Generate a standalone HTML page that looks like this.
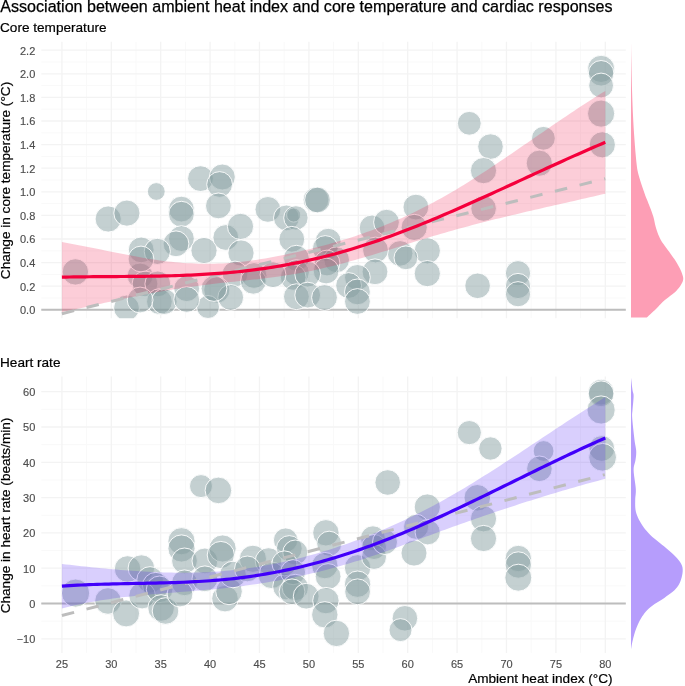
<!DOCTYPE html><html><head><meta charset="utf-8"><style>html,body{margin:0;padding:0;background:#fff;width:685px;height:686px;overflow:hidden}</style></head><body><svg width="685" height="686" viewBox="0 0 685 686" style="display:block;will-change:transform">
<rect width="685" height="686" fill="#fff"/>
<line x1="41.3" x2="625.8" y1="298.00" y2="298.00" stroke="#f9f9f9" stroke-width="1"/>
<line x1="41.3" x2="625.8" y1="274.40" y2="274.40" stroke="#f9f9f9" stroke-width="1"/>
<line x1="41.3" x2="625.8" y1="250.80" y2="250.80" stroke="#f9f9f9" stroke-width="1"/>
<line x1="41.3" x2="625.8" y1="227.20" y2="227.20" stroke="#f9f9f9" stroke-width="1"/>
<line x1="41.3" x2="625.8" y1="203.60" y2="203.60" stroke="#f9f9f9" stroke-width="1"/>
<line x1="41.3" x2="625.8" y1="180.00" y2="180.00" stroke="#f9f9f9" stroke-width="1"/>
<line x1="41.3" x2="625.8" y1="156.40" y2="156.40" stroke="#f9f9f9" stroke-width="1"/>
<line x1="41.3" x2="625.8" y1="132.80" y2="132.80" stroke="#f9f9f9" stroke-width="1"/>
<line x1="41.3" x2="625.8" y1="109.20" y2="109.20" stroke="#f9f9f9" stroke-width="1"/>
<line x1="41.3" x2="625.8" y1="85.60" y2="85.60" stroke="#f9f9f9" stroke-width="1"/>
<line x1="41.3" x2="625.8" y1="62.00" y2="62.00" stroke="#f9f9f9" stroke-width="1"/>
<line x1="86.60" x2="86.60" y1="41.8" y2="318.2" stroke="#f9f9f9" stroke-width="1"/>
<line x1="136.00" x2="136.00" y1="41.8" y2="318.2" stroke="#f9f9f9" stroke-width="1"/>
<line x1="185.40" x2="185.40" y1="41.8" y2="318.2" stroke="#f9f9f9" stroke-width="1"/>
<line x1="234.80" x2="234.80" y1="41.8" y2="318.2" stroke="#f9f9f9" stroke-width="1"/>
<line x1="284.20" x2="284.20" y1="41.8" y2="318.2" stroke="#f9f9f9" stroke-width="1"/>
<line x1="333.60" x2="333.60" y1="41.8" y2="318.2" stroke="#f9f9f9" stroke-width="1"/>
<line x1="383.00" x2="383.00" y1="41.8" y2="318.2" stroke="#f9f9f9" stroke-width="1"/>
<line x1="432.40" x2="432.40" y1="41.8" y2="318.2" stroke="#f9f9f9" stroke-width="1"/>
<line x1="481.80" x2="481.80" y1="41.8" y2="318.2" stroke="#f9f9f9" stroke-width="1"/>
<line x1="531.20" x2="531.20" y1="41.8" y2="318.2" stroke="#f9f9f9" stroke-width="1"/>
<line x1="580.60" x2="580.60" y1="41.8" y2="318.2" stroke="#f9f9f9" stroke-width="1"/>
<line x1="41.3" x2="625.8" y1="309.80" y2="309.80" stroke="#f3f3f3" stroke-width="1.3"/>
<line x1="41.3" x2="625.8" y1="286.20" y2="286.20" stroke="#f3f3f3" stroke-width="1.3"/>
<line x1="41.3" x2="625.8" y1="262.60" y2="262.60" stroke="#f3f3f3" stroke-width="1.3"/>
<line x1="41.3" x2="625.8" y1="239.00" y2="239.00" stroke="#f3f3f3" stroke-width="1.3"/>
<line x1="41.3" x2="625.8" y1="215.40" y2="215.40" stroke="#f3f3f3" stroke-width="1.3"/>
<line x1="41.3" x2="625.8" y1="191.80" y2="191.80" stroke="#f3f3f3" stroke-width="1.3"/>
<line x1="41.3" x2="625.8" y1="168.20" y2="168.20" stroke="#f3f3f3" stroke-width="1.3"/>
<line x1="41.3" x2="625.8" y1="144.60" y2="144.60" stroke="#f3f3f3" stroke-width="1.3"/>
<line x1="41.3" x2="625.8" y1="121.00" y2="121.00" stroke="#f3f3f3" stroke-width="1.3"/>
<line x1="41.3" x2="625.8" y1="97.40" y2="97.40" stroke="#f3f3f3" stroke-width="1.3"/>
<line x1="41.3" x2="625.8" y1="73.80" y2="73.80" stroke="#f3f3f3" stroke-width="1.3"/>
<line x1="41.3" x2="625.8" y1="50.20" y2="50.20" stroke="#f3f3f3" stroke-width="1.3"/>
<line x1="61.90" x2="61.90" y1="41.8" y2="318.2" stroke="#f3f3f3" stroke-width="1.3"/>
<line x1="111.30" x2="111.30" y1="41.8" y2="318.2" stroke="#f3f3f3" stroke-width="1.3"/>
<line x1="160.70" x2="160.70" y1="41.8" y2="318.2" stroke="#f3f3f3" stroke-width="1.3"/>
<line x1="210.10" x2="210.10" y1="41.8" y2="318.2" stroke="#f3f3f3" stroke-width="1.3"/>
<line x1="259.50" x2="259.50" y1="41.8" y2="318.2" stroke="#f3f3f3" stroke-width="1.3"/>
<line x1="308.90" x2="308.90" y1="41.8" y2="318.2" stroke="#f3f3f3" stroke-width="1.3"/>
<line x1="358.30" x2="358.30" y1="41.8" y2="318.2" stroke="#f3f3f3" stroke-width="1.3"/>
<line x1="407.70" x2="407.70" y1="41.8" y2="318.2" stroke="#f3f3f3" stroke-width="1.3"/>
<line x1="457.10" x2="457.10" y1="41.8" y2="318.2" stroke="#f3f3f3" stroke-width="1.3"/>
<line x1="506.50" x2="506.50" y1="41.8" y2="318.2" stroke="#f3f3f3" stroke-width="1.3"/>
<line x1="555.90" x2="555.90" y1="41.8" y2="318.2" stroke="#f3f3f3" stroke-width="1.3"/>
<line x1="605.30" x2="605.30" y1="41.8" y2="318.2" stroke="#f3f3f3" stroke-width="1.3"/>
<line x1="41.3" x2="625.8" y1="621.15" y2="621.15" stroke="#f9f9f9" stroke-width="1"/>
<line x1="41.3" x2="625.8" y1="585.85" y2="585.85" stroke="#f9f9f9" stroke-width="1"/>
<line x1="41.3" x2="625.8" y1="550.55" y2="550.55" stroke="#f9f9f9" stroke-width="1"/>
<line x1="41.3" x2="625.8" y1="515.25" y2="515.25" stroke="#f9f9f9" stroke-width="1"/>
<line x1="41.3" x2="625.8" y1="479.95" y2="479.95" stroke="#f9f9f9" stroke-width="1"/>
<line x1="41.3" x2="625.8" y1="444.65" y2="444.65" stroke="#f9f9f9" stroke-width="1"/>
<line x1="41.3" x2="625.8" y1="409.35" y2="409.35" stroke="#f9f9f9" stroke-width="1"/>
<line x1="86.60" x2="86.60" y1="376.6" y2="652.9" stroke="#f9f9f9" stroke-width="1"/>
<line x1="136.00" x2="136.00" y1="376.6" y2="652.9" stroke="#f9f9f9" stroke-width="1"/>
<line x1="185.40" x2="185.40" y1="376.6" y2="652.9" stroke="#f9f9f9" stroke-width="1"/>
<line x1="234.80" x2="234.80" y1="376.6" y2="652.9" stroke="#f9f9f9" stroke-width="1"/>
<line x1="284.20" x2="284.20" y1="376.6" y2="652.9" stroke="#f9f9f9" stroke-width="1"/>
<line x1="333.60" x2="333.60" y1="376.6" y2="652.9" stroke="#f9f9f9" stroke-width="1"/>
<line x1="383.00" x2="383.00" y1="376.6" y2="652.9" stroke="#f9f9f9" stroke-width="1"/>
<line x1="432.40" x2="432.40" y1="376.6" y2="652.9" stroke="#f9f9f9" stroke-width="1"/>
<line x1="481.80" x2="481.80" y1="376.6" y2="652.9" stroke="#f9f9f9" stroke-width="1"/>
<line x1="531.20" x2="531.20" y1="376.6" y2="652.9" stroke="#f9f9f9" stroke-width="1"/>
<line x1="580.60" x2="580.60" y1="376.6" y2="652.9" stroke="#f9f9f9" stroke-width="1"/>
<line x1="41.3" x2="625.8" y1="638.80" y2="638.80" stroke="#f3f3f3" stroke-width="1.3"/>
<line x1="41.3" x2="625.8" y1="603.50" y2="603.50" stroke="#f3f3f3" stroke-width="1.3"/>
<line x1="41.3" x2="625.8" y1="568.20" y2="568.20" stroke="#f3f3f3" stroke-width="1.3"/>
<line x1="41.3" x2="625.8" y1="532.90" y2="532.90" stroke="#f3f3f3" stroke-width="1.3"/>
<line x1="41.3" x2="625.8" y1="497.60" y2="497.60" stroke="#f3f3f3" stroke-width="1.3"/>
<line x1="41.3" x2="625.8" y1="462.30" y2="462.30" stroke="#f3f3f3" stroke-width="1.3"/>
<line x1="41.3" x2="625.8" y1="427.00" y2="427.00" stroke="#f3f3f3" stroke-width="1.3"/>
<line x1="41.3" x2="625.8" y1="391.70" y2="391.70" stroke="#f3f3f3" stroke-width="1.3"/>
<line x1="61.90" x2="61.90" y1="376.6" y2="652.9" stroke="#f3f3f3" stroke-width="1.3"/>
<line x1="111.30" x2="111.30" y1="376.6" y2="652.9" stroke="#f3f3f3" stroke-width="1.3"/>
<line x1="160.70" x2="160.70" y1="376.6" y2="652.9" stroke="#f3f3f3" stroke-width="1.3"/>
<line x1="210.10" x2="210.10" y1="376.6" y2="652.9" stroke="#f3f3f3" stroke-width="1.3"/>
<line x1="259.50" x2="259.50" y1="376.6" y2="652.9" stroke="#f3f3f3" stroke-width="1.3"/>
<line x1="308.90" x2="308.90" y1="376.6" y2="652.9" stroke="#f3f3f3" stroke-width="1.3"/>
<line x1="358.30" x2="358.30" y1="376.6" y2="652.9" stroke="#f3f3f3" stroke-width="1.3"/>
<line x1="407.70" x2="407.70" y1="376.6" y2="652.9" stroke="#f3f3f3" stroke-width="1.3"/>
<line x1="457.10" x2="457.10" y1="376.6" y2="652.9" stroke="#f3f3f3" stroke-width="1.3"/>
<line x1="506.50" x2="506.50" y1="376.6" y2="652.9" stroke="#f3f3f3" stroke-width="1.3"/>
<line x1="555.90" x2="555.90" y1="376.6" y2="652.9" stroke="#f3f3f3" stroke-width="1.3"/>
<line x1="605.30" x2="605.30" y1="376.6" y2="652.9" stroke="#f3f3f3" stroke-width="1.3"/>
<line x1="41.3" x2="625.8" y1="309.80" y2="309.80" stroke="#bdbdbd" stroke-width="2.1"/>
<line x1="41.3" x2="625.8" y1="603.50" y2="603.50" stroke="#bdbdbd" stroke-width="2.1"/>
<defs><clipPath id="ct"><rect x="41.3" y="41.8" width="584.5" height="276.4"/></clipPath><clipPath id="cb"><rect x="41.3" y="376.6" width="584.5" height="276.29999999999995"/></clipPath></defs>
<g clip-path="url(#ct)">
<circle cx="75.4" cy="271.9" r="13.2" fill="rgb(131,156,158)" fill-opacity="0.48" stroke="#fff" stroke-opacity="0.9" stroke-width="1.0"/>
<circle cx="108.2" cy="219.0" r="13.1" fill="rgb(131,156,158)" fill-opacity="0.48" stroke="#fff" stroke-opacity="0.9" stroke-width="1.0"/>
<circle cx="126.9" cy="213.1" r="13.1" fill="rgb(131,156,158)" fill-opacity="0.48" stroke="#fff" stroke-opacity="0.9" stroke-width="1.0"/>
<circle cx="156.3" cy="191.5" r="8.9" fill="rgb(131,156,158)" fill-opacity="0.48" stroke="#fff" stroke-opacity="0.9" stroke-width="1.0"/>
<circle cx="181.4" cy="209.1" r="12.9" fill="rgb(131,156,158)" fill-opacity="0.48" stroke="#fff" stroke-opacity="0.9" stroke-width="1.0"/>
<circle cx="181.4" cy="214.2" r="12.9" fill="rgb(131,156,158)" fill-opacity="0.48" stroke="#fff" stroke-opacity="0.9" stroke-width="1.0"/>
<circle cx="200.5" cy="178.6" r="12.9" fill="rgb(131,156,158)" fill-opacity="0.48" stroke="#fff" stroke-opacity="0.9" stroke-width="1.0"/>
<circle cx="222.3" cy="177.0" r="13.0" fill="rgb(131,156,158)" fill-opacity="0.48" stroke="#fff" stroke-opacity="0.9" stroke-width="1.0"/>
<circle cx="219.6" cy="184.5" r="12.9" fill="rgb(131,156,158)" fill-opacity="0.48" stroke="#fff" stroke-opacity="0.9" stroke-width="1.0"/>
<circle cx="218.4" cy="205.9" r="12.9" fill="rgb(131,156,158)" fill-opacity="0.48" stroke="#fff" stroke-opacity="0.9" stroke-width="1.0"/>
<circle cx="181.4" cy="238.6" r="12.9" fill="rgb(131,156,158)" fill-opacity="0.48" stroke="#fff" stroke-opacity="0.9" stroke-width="1.0"/>
<circle cx="176.0" cy="243.8" r="12.9" fill="rgb(131,156,158)" fill-opacity="0.48" stroke="#fff" stroke-opacity="0.9" stroke-width="1.0"/>
<circle cx="141.2" cy="249.9" r="12.9" fill="rgb(131,156,158)" fill-opacity="0.48" stroke="#fff" stroke-opacity="0.9" stroke-width="1.0"/>
<circle cx="157.3" cy="251.4" r="13.1" fill="rgb(131,156,158)" fill-opacity="0.48" stroke="#fff" stroke-opacity="0.9" stroke-width="1.0"/>
<circle cx="204.0" cy="250.5" r="13.1" fill="rgb(131,156,158)" fill-opacity="0.48" stroke="#fff" stroke-opacity="0.9" stroke-width="1.0"/>
<circle cx="225.8" cy="237.5" r="12.9" fill="rgb(131,156,158)" fill-opacity="0.48" stroke="#fff" stroke-opacity="0.9" stroke-width="1.0"/>
<circle cx="240.5" cy="226.4" r="13.1" fill="rgb(131,156,158)" fill-opacity="0.48" stroke="#fff" stroke-opacity="0.9" stroke-width="1.0"/>
<circle cx="241.0" cy="253.0" r="13.1" fill="rgb(131,156,158)" fill-opacity="0.48" stroke="#fff" stroke-opacity="0.9" stroke-width="1.0"/>
<circle cx="267.9" cy="209.4" r="12.9" fill="rgb(131,156,158)" fill-opacity="0.48" stroke="#fff" stroke-opacity="0.9" stroke-width="1.0"/>
<circle cx="286.4" cy="217.9" r="12.9" fill="rgb(131,156,158)" fill-opacity="0.48" stroke="#fff" stroke-opacity="0.9" stroke-width="1.0"/>
<circle cx="293.7" cy="215.0" r="7.1" fill="rgb(131,156,158)" fill-opacity="0.48" stroke="#fff" stroke-opacity="0.9" stroke-width="1.0"/>
<circle cx="295.9" cy="217.9" r="12.2" fill="rgb(131,156,158)" fill-opacity="0.48" stroke="#fff" stroke-opacity="0.9" stroke-width="1.0"/>
<circle cx="316.0" cy="199.8" r="12.9" fill="rgb(131,156,158)" fill-opacity="0.48" stroke="#fff" stroke-opacity="0.9" stroke-width="1.0"/>
<circle cx="317.5" cy="200.0" r="12.9" fill="rgb(131,156,158)" fill-opacity="0.48" stroke="#fff" stroke-opacity="0.9" stroke-width="1.0"/>
<circle cx="291.8" cy="239.3" r="12.9" fill="rgb(131,156,158)" fill-opacity="0.48" stroke="#fff" stroke-opacity="0.9" stroke-width="1.0"/>
<circle cx="328.2" cy="241.2" r="12.9" fill="rgb(131,156,158)" fill-opacity="0.48" stroke="#fff" stroke-opacity="0.9" stroke-width="1.0"/>
<circle cx="325.3" cy="248.5" r="12.9" fill="rgb(131,156,158)" fill-opacity="0.48" stroke="#fff" stroke-opacity="0.9" stroke-width="1.0"/>
<circle cx="372.1" cy="227.9" r="12.9" fill="rgb(131,156,158)" fill-opacity="0.48" stroke="#fff" stroke-opacity="0.9" stroke-width="1.0"/>
<circle cx="386.5" cy="222.2" r="12.9" fill="rgb(131,156,158)" fill-opacity="0.48" stroke="#fff" stroke-opacity="0.9" stroke-width="1.0"/>
<circle cx="415.9" cy="207.1" r="12.9" fill="rgb(131,156,158)" fill-opacity="0.48" stroke="#fff" stroke-opacity="0.9" stroke-width="1.0"/>
<circle cx="414.2" cy="227.4" r="13.1" fill="rgb(131,156,158)" fill-opacity="0.48" stroke="#fff" stroke-opacity="0.9" stroke-width="1.0"/>
<circle cx="469.3" cy="123.3" r="11.9" fill="rgb(131,156,158)" fill-opacity="0.48" stroke="#fff" stroke-opacity="0.9" stroke-width="1.0"/>
<circle cx="490.5" cy="146.6" r="12.8" fill="rgb(131,156,158)" fill-opacity="0.48" stroke="#fff" stroke-opacity="0.9" stroke-width="1.0"/>
<circle cx="483.5" cy="170.6" r="13.1" fill="rgb(131,156,158)" fill-opacity="0.48" stroke="#fff" stroke-opacity="0.9" stroke-width="1.0"/>
<circle cx="483.6" cy="208.5" r="12.8" fill="rgb(131,156,158)" fill-opacity="0.48" stroke="#fff" stroke-opacity="0.9" stroke-width="1.0"/>
<circle cx="543.4" cy="138.3" r="11.9" fill="rgb(131,156,158)" fill-opacity="0.48" stroke="#fff" stroke-opacity="0.9" stroke-width="1.0"/>
<circle cx="539.3" cy="163.2" r="13.1" fill="rgb(131,156,158)" fill-opacity="0.48" stroke="#fff" stroke-opacity="0.9" stroke-width="1.0"/>
<circle cx="601.1" cy="68.9" r="13.6" fill="rgb(131,156,158)" fill-opacity="0.48" stroke="#fff" stroke-opacity="0.9" stroke-width="1.0"/>
<circle cx="601.1" cy="73.3" r="12.8" fill="rgb(131,156,158)" fill-opacity="0.48" stroke="#fff" stroke-opacity="0.9" stroke-width="1.0"/>
<circle cx="601.1" cy="85.5" r="12.4" fill="rgb(131,156,158)" fill-opacity="0.48" stroke="#fff" stroke-opacity="0.9" stroke-width="1.0"/>
<circle cx="601.1" cy="113.6" r="13.6" fill="rgb(131,156,158)" fill-opacity="0.48" stroke="#fff" stroke-opacity="0.9" stroke-width="1.0"/>
<circle cx="602.3" cy="144.8" r="13.1" fill="rgb(131,156,158)" fill-opacity="0.48" stroke="#fff" stroke-opacity="0.9" stroke-width="1.0"/>
<circle cx="518.0" cy="273.2" r="12.6" fill="rgb(131,156,158)" fill-opacity="0.48" stroke="#fff" stroke-opacity="0.9" stroke-width="1.0"/>
<circle cx="518.0" cy="286.0" r="12.6" fill="rgb(131,156,158)" fill-opacity="0.48" stroke="#fff" stroke-opacity="0.9" stroke-width="1.0"/>
<circle cx="518.0" cy="294.2" r="12.6" fill="rgb(131,156,158)" fill-opacity="0.48" stroke="#fff" stroke-opacity="0.9" stroke-width="1.0"/>
<circle cx="427.3" cy="250.8" r="13.1" fill="rgb(131,156,158)" fill-opacity="0.48" stroke="#fff" stroke-opacity="0.9" stroke-width="1.0"/>
<circle cx="427.3" cy="273.6" r="13.1" fill="rgb(131,156,158)" fill-opacity="0.48" stroke="#fff" stroke-opacity="0.9" stroke-width="1.0"/>
<circle cx="400.1" cy="253.4" r="12.8" fill="rgb(131,156,158)" fill-opacity="0.48" stroke="#fff" stroke-opacity="0.9" stroke-width="1.0"/>
<circle cx="405.9" cy="257.8" r="11.9" fill="rgb(131,156,158)" fill-opacity="0.48" stroke="#fff" stroke-opacity="0.9" stroke-width="1.0"/>
<circle cx="375.5" cy="250.0" r="12.9" fill="rgb(131,156,158)" fill-opacity="0.48" stroke="#fff" stroke-opacity="0.9" stroke-width="1.0"/>
<circle cx="375.0" cy="271.8" r="12.9" fill="rgb(131,156,158)" fill-opacity="0.48" stroke="#fff" stroke-opacity="0.9" stroke-width="1.0"/>
<circle cx="477.6" cy="285.8" r="12.8" fill="rgb(131,156,158)" fill-opacity="0.48" stroke="#fff" stroke-opacity="0.9" stroke-width="1.0"/>
<circle cx="336.6" cy="259.8" r="12.9" fill="rgb(131,156,158)" fill-opacity="0.48" stroke="#fff" stroke-opacity="0.9" stroke-width="1.0"/>
<circle cx="327.0" cy="263.0" r="12.9" fill="rgb(131,156,158)" fill-opacity="0.48" stroke="#fff" stroke-opacity="0.9" stroke-width="1.0"/>
<circle cx="326.1" cy="271.0" r="12.9" fill="rgb(131,156,158)" fill-opacity="0.48" stroke="#fff" stroke-opacity="0.9" stroke-width="1.0"/>
<circle cx="296.4" cy="258.2" r="12.9" fill="rgb(131,156,158)" fill-opacity="0.48" stroke="#fff" stroke-opacity="0.9" stroke-width="1.0"/>
<circle cx="296.4" cy="272.6" r="12.9" fill="rgb(131,156,158)" fill-opacity="0.48" stroke="#fff" stroke-opacity="0.9" stroke-width="1.0"/>
<circle cx="293.2" cy="277.4" r="12.9" fill="rgb(131,156,158)" fill-opacity="0.48" stroke="#fff" stroke-opacity="0.9" stroke-width="1.0"/>
<circle cx="307.7" cy="274.2" r="12.9" fill="rgb(131,156,158)" fill-opacity="0.48" stroke="#fff" stroke-opacity="0.9" stroke-width="1.0"/>
<circle cx="296.4" cy="296.7" r="12.9" fill="rgb(131,156,158)" fill-opacity="0.48" stroke="#fff" stroke-opacity="0.9" stroke-width="1.0"/>
<circle cx="307.7" cy="295.1" r="12.9" fill="rgb(131,156,158)" fill-opacity="0.48" stroke="#fff" stroke-opacity="0.9" stroke-width="1.0"/>
<circle cx="324.5" cy="297.5" r="12.9" fill="rgb(131,156,158)" fill-opacity="0.48" stroke="#fff" stroke-opacity="0.9" stroke-width="1.0"/>
<circle cx="357.4" cy="277.4" r="12.9" fill="rgb(131,156,158)" fill-opacity="0.48" stroke="#fff" stroke-opacity="0.9" stroke-width="1.0"/>
<circle cx="348.6" cy="285.5" r="12.9" fill="rgb(131,156,158)" fill-opacity="0.48" stroke="#fff" stroke-opacity="0.9" stroke-width="1.0"/>
<circle cx="357.4" cy="291.9" r="12.9" fill="rgb(131,156,158)" fill-opacity="0.48" stroke="#fff" stroke-opacity="0.9" stroke-width="1.0"/>
<circle cx="357.4" cy="301.5" r="12.9" fill="rgb(131,156,158)" fill-opacity="0.48" stroke="#fff" stroke-opacity="0.9" stroke-width="1.0"/>
<circle cx="235.0" cy="274.0" r="12.9" fill="rgb(131,156,158)" fill-opacity="0.48" stroke="#fff" stroke-opacity="0.9" stroke-width="1.0"/>
<circle cx="254.0" cy="275.5" r="12.9" fill="rgb(131,156,158)" fill-opacity="0.48" stroke="#fff" stroke-opacity="0.9" stroke-width="1.0"/>
<circle cx="253.3" cy="281.3" r="12.9" fill="rgb(131,156,158)" fill-opacity="0.48" stroke="#fff" stroke-opacity="0.9" stroke-width="1.0"/>
<circle cx="273.0" cy="274.7" r="12.9" fill="rgb(131,156,158)" fill-opacity="0.48" stroke="#fff" stroke-opacity="0.9" stroke-width="1.0"/>
<circle cx="216.8" cy="290.0" r="13.1" fill="rgb(131,156,158)" fill-opacity="0.48" stroke="#fff" stroke-opacity="0.9" stroke-width="1.0"/>
<circle cx="230.7" cy="297.4" r="12.9" fill="rgb(131,156,158)" fill-opacity="0.48" stroke="#fff" stroke-opacity="0.9" stroke-width="1.0"/>
<circle cx="208.0" cy="307.0" r="11.5" fill="rgb(131,156,158)" fill-opacity="0.48" stroke="#fff" stroke-opacity="0.9" stroke-width="1.0"/>
<circle cx="126.5" cy="308.0" r="12.9" fill="rgb(131,156,158)" fill-opacity="0.48" stroke="#fff" stroke-opacity="0.9" stroke-width="1.0"/>
<circle cx="140.1" cy="275.9" r="12.9" fill="rgb(131,156,158)" fill-opacity="0.48" stroke="#fff" stroke-opacity="0.9" stroke-width="1.0"/>
<circle cx="145.0" cy="283.9" r="12.9" fill="rgb(131,156,158)" fill-opacity="0.48" stroke="#fff" stroke-opacity="0.9" stroke-width="1.0"/>
<circle cx="141.0" cy="259.0" r="12.9" fill="rgb(131,156,158)" fill-opacity="0.48" stroke="#fff" stroke-opacity="0.9" stroke-width="1.0"/>
<circle cx="157.8" cy="283.9" r="12.9" fill="rgb(131,156,158)" fill-opacity="0.48" stroke="#fff" stroke-opacity="0.9" stroke-width="1.0"/>
<circle cx="159.4" cy="301.6" r="12.9" fill="rgb(131,156,158)" fill-opacity="0.48" stroke="#fff" stroke-opacity="0.9" stroke-width="1.0"/>
<circle cx="164.2" cy="301.6" r="12.9" fill="rgb(131,156,158)" fill-opacity="0.48" stroke="#fff" stroke-opacity="0.9" stroke-width="1.0"/>
<circle cx="140.1" cy="300.0" r="12.9" fill="rgb(131,156,158)" fill-opacity="0.48" stroke="#fff" stroke-opacity="0.9" stroke-width="1.0"/>
<circle cx="186.7" cy="288.7" r="12.9" fill="rgb(131,156,158)" fill-opacity="0.48" stroke="#fff" stroke-opacity="0.9" stroke-width="1.0"/>
<circle cx="186.7" cy="299.5" r="12.9" fill="rgb(131,156,158)" fill-opacity="0.48" stroke="#fff" stroke-opacity="0.9" stroke-width="1.0"/>
<circle cx="214.0" cy="288.5" r="12.9" fill="rgb(131,156,158)" fill-opacity="0.48" stroke="#fff" stroke-opacity="0.9" stroke-width="1.0"/>
</g>
<g clip-path="url(#cb)">
<circle cx="75.6" cy="593.1" r="14.1" fill="rgb(131,156,158)" fill-opacity="0.48" stroke="#fff" stroke-opacity="0.9" stroke-width="1.0"/>
<circle cx="108.0" cy="601.0" r="13.3" fill="rgb(131,156,158)" fill-opacity="0.48" stroke="#fff" stroke-opacity="0.9" stroke-width="1.0"/>
<circle cx="127.6" cy="569.0" r="13.3" fill="rgb(131,156,158)" fill-opacity="0.48" stroke="#fff" stroke-opacity="0.9" stroke-width="1.0"/>
<circle cx="126.1" cy="613.4" r="13.5" fill="rgb(131,156,158)" fill-opacity="0.48" stroke="#fff" stroke-opacity="0.9" stroke-width="1.0"/>
<circle cx="141.4" cy="568.1" r="13.3" fill="rgb(131,156,158)" fill-opacity="0.48" stroke="#fff" stroke-opacity="0.9" stroke-width="1.0"/>
<circle cx="150.1" cy="579.9" r="13.3" fill="rgb(131,156,158)" fill-opacity="0.48" stroke="#fff" stroke-opacity="0.9" stroke-width="1.0"/>
<circle cx="155.8" cy="585.7" r="13.3" fill="rgb(131,156,158)" fill-opacity="0.48" stroke="#fff" stroke-opacity="0.9" stroke-width="1.0"/>
<circle cx="142.1" cy="595.6" r="13.3" fill="rgb(131,156,158)" fill-opacity="0.48" stroke="#fff" stroke-opacity="0.9" stroke-width="1.0"/>
<circle cx="159.6" cy="589.3" r="13.3" fill="rgb(131,156,158)" fill-opacity="0.48" stroke="#fff" stroke-opacity="0.9" stroke-width="1.0"/>
<circle cx="161.1" cy="608.0" r="13.3" fill="rgb(131,156,158)" fill-opacity="0.48" stroke="#fff" stroke-opacity="0.9" stroke-width="1.0"/>
<circle cx="165.5" cy="611.0" r="13.3" fill="rgb(131,156,158)" fill-opacity="0.48" stroke="#fff" stroke-opacity="0.9" stroke-width="1.0"/>
<circle cx="181.5" cy="541.2" r="13.6" fill="rgb(131,156,158)" fill-opacity="0.48" stroke="#fff" stroke-opacity="0.9" stroke-width="1.0"/>
<circle cx="181.5" cy="548.5" r="13.6" fill="rgb(131,156,158)" fill-opacity="0.48" stroke="#fff" stroke-opacity="0.9" stroke-width="1.0"/>
<circle cx="184.5" cy="560.9" r="12.9" fill="rgb(131,156,158)" fill-opacity="0.48" stroke="#fff" stroke-opacity="0.9" stroke-width="1.0"/>
<circle cx="184.5" cy="582.8" r="12.9" fill="rgb(131,156,158)" fill-opacity="0.48" stroke="#fff" stroke-opacity="0.9" stroke-width="1.0"/>
<circle cx="180.0" cy="594.0" r="12.9" fill="rgb(131,156,158)" fill-opacity="0.48" stroke="#fff" stroke-opacity="0.9" stroke-width="1.0"/>
<circle cx="204.9" cy="560.9" r="12.9" fill="rgb(131,156,158)" fill-opacity="0.48" stroke="#fff" stroke-opacity="0.9" stroke-width="1.0"/>
<circle cx="204.9" cy="578.8" r="12.9" fill="rgb(131,156,158)" fill-opacity="0.48" stroke="#fff" stroke-opacity="0.9" stroke-width="1.0"/>
<circle cx="201.0" cy="486.1" r="11.5" fill="rgb(131,156,158)" fill-opacity="0.48" stroke="#fff" stroke-opacity="0.9" stroke-width="1.0"/>
<circle cx="218.4" cy="490.4" r="13.3" fill="rgb(131,156,158)" fill-opacity="0.48" stroke="#fff" stroke-opacity="0.9" stroke-width="1.0"/>
<circle cx="222.6" cy="548.5" r="13.6" fill="rgb(131,156,158)" fill-opacity="0.48" stroke="#fff" stroke-opacity="0.9" stroke-width="1.0"/>
<circle cx="220.8" cy="555.0" r="13.6" fill="rgb(131,156,158)" fill-opacity="0.48" stroke="#fff" stroke-opacity="0.9" stroke-width="1.0"/>
<circle cx="225.0" cy="598.6" r="13.3" fill="rgb(131,156,158)" fill-opacity="0.48" stroke="#fff" stroke-opacity="0.9" stroke-width="1.0"/>
<circle cx="229.0" cy="591.4" r="13.3" fill="rgb(131,156,158)" fill-opacity="0.48" stroke="#fff" stroke-opacity="0.9" stroke-width="1.0"/>
<circle cx="233.0" cy="574.5" r="13.3" fill="rgb(131,156,158)" fill-opacity="0.48" stroke="#fff" stroke-opacity="0.9" stroke-width="1.0"/>
<circle cx="252.9" cy="558.8" r="13.6" fill="rgb(131,156,158)" fill-opacity="0.48" stroke="#fff" stroke-opacity="0.9" stroke-width="1.0"/>
<circle cx="268.5" cy="561.0" r="13.3" fill="rgb(131,156,158)" fill-opacity="0.48" stroke="#fff" stroke-opacity="0.9" stroke-width="1.0"/>
<circle cx="271.5" cy="575.3" r="13.3" fill="rgb(131,156,158)" fill-opacity="0.48" stroke="#fff" stroke-opacity="0.9" stroke-width="1.0"/>
<circle cx="247.4" cy="568.9" r="12.9" fill="rgb(131,156,158)" fill-opacity="0.48" stroke="#fff" stroke-opacity="0.9" stroke-width="1.0"/>
<circle cx="286.0" cy="586.6" r="13.3" fill="rgb(131,156,158)" fill-opacity="0.48" stroke="#fff" stroke-opacity="0.9" stroke-width="1.0"/>
<circle cx="285.6" cy="540.1" r="12.2" fill="rgb(131,156,158)" fill-opacity="0.48" stroke="#fff" stroke-opacity="0.9" stroke-width="1.0"/>
<circle cx="289.3" cy="548.5" r="12.9" fill="rgb(131,156,158)" fill-opacity="0.48" stroke="#fff" stroke-opacity="0.9" stroke-width="1.0"/>
<circle cx="295.3" cy="552.5" r="12.5" fill="rgb(131,156,158)" fill-opacity="0.48" stroke="#fff" stroke-opacity="0.9" stroke-width="1.0"/>
<circle cx="284.4" cy="563.4" r="12.5" fill="rgb(131,156,158)" fill-opacity="0.48" stroke="#fff" stroke-opacity="0.9" stroke-width="1.0"/>
<circle cx="293.1" cy="572.2" r="12.5" fill="rgb(131,156,158)" fill-opacity="0.48" stroke="#fff" stroke-opacity="0.9" stroke-width="1.0"/>
<circle cx="295.3" cy="587.5" r="13.2" fill="rgb(131,156,158)" fill-opacity="0.48" stroke="#fff" stroke-opacity="0.9" stroke-width="1.0"/>
<circle cx="292.0" cy="591.8" r="12.9" fill="rgb(131,156,158)" fill-opacity="0.48" stroke="#fff" stroke-opacity="0.9" stroke-width="1.0"/>
<circle cx="306.2" cy="596.2" r="12.9" fill="rgb(131,156,158)" fill-opacity="0.48" stroke="#fff" stroke-opacity="0.9" stroke-width="1.0"/>
<circle cx="325.9" cy="532.8" r="13.2" fill="rgb(131,156,158)" fill-opacity="0.48" stroke="#fff" stroke-opacity="0.9" stroke-width="1.0"/>
<circle cx="329.2" cy="543.7" r="12.5" fill="rgb(131,156,158)" fill-opacity="0.48" stroke="#fff" stroke-opacity="0.9" stroke-width="1.0"/>
<circle cx="324.8" cy="565.6" r="13.2" fill="rgb(131,156,158)" fill-opacity="0.48" stroke="#fff" stroke-opacity="0.9" stroke-width="1.0"/>
<circle cx="328.1" cy="576.5" r="12.9" fill="rgb(131,156,158)" fill-opacity="0.48" stroke="#fff" stroke-opacity="0.9" stroke-width="1.0"/>
<circle cx="325.9" cy="600.6" r="13.2" fill="rgb(131,156,158)" fill-opacity="0.48" stroke="#fff" stroke-opacity="0.9" stroke-width="1.0"/>
<circle cx="324.8" cy="614.8" r="13.2" fill="rgb(131,156,158)" fill-opacity="0.48" stroke="#fff" stroke-opacity="0.9" stroke-width="1.0"/>
<circle cx="336.4" cy="633.4" r="13.2" fill="rgb(131,156,158)" fill-opacity="0.48" stroke="#fff" stroke-opacity="0.9" stroke-width="1.0"/>
<circle cx="357.6" cy="567.8" r="13.2" fill="rgb(131,156,158)" fill-opacity="0.48" stroke="#fff" stroke-opacity="0.9" stroke-width="1.0"/>
<circle cx="357.6" cy="584.2" r="13.2" fill="rgb(131,156,158)" fill-opacity="0.48" stroke="#fff" stroke-opacity="0.9" stroke-width="1.0"/>
<circle cx="357.6" cy="591.8" r="12.9" fill="rgb(131,156,158)" fill-opacity="0.48" stroke="#fff" stroke-opacity="0.9" stroke-width="1.0"/>
<circle cx="372.9" cy="538.3" r="12.5" fill="rgb(131,156,158)" fill-opacity="0.48" stroke="#fff" stroke-opacity="0.9" stroke-width="1.0"/>
<circle cx="374.0" cy="547.0" r="12.5" fill="rgb(131,156,158)" fill-opacity="0.48" stroke="#fff" stroke-opacity="0.9" stroke-width="1.0"/>
<circle cx="374.0" cy="556.9" r="12.5" fill="rgb(131,156,158)" fill-opacity="0.48" stroke="#fff" stroke-opacity="0.9" stroke-width="1.0"/>
<circle cx="385.0" cy="542.0" r="12.5" fill="rgb(131,156,158)" fill-opacity="0.48" stroke="#fff" stroke-opacity="0.9" stroke-width="1.0"/>
<circle cx="387.7" cy="482.5" r="12.8" fill="rgb(131,156,158)" fill-opacity="0.48" stroke="#fff" stroke-opacity="0.9" stroke-width="1.0"/>
<circle cx="427.3" cy="507.0" r="13.1" fill="rgb(131,156,158)" fill-opacity="0.48" stroke="#fff" stroke-opacity="0.9" stroke-width="1.0"/>
<circle cx="416.1" cy="526.8" r="12.6" fill="rgb(131,156,158)" fill-opacity="0.48" stroke="#fff" stroke-opacity="0.9" stroke-width="1.0"/>
<circle cx="427.7" cy="532.3" r="12.6" fill="rgb(131,156,158)" fill-opacity="0.48" stroke="#fff" stroke-opacity="0.9" stroke-width="1.0"/>
<circle cx="414.0" cy="553.1" r="13.0" fill="rgb(131,156,158)" fill-opacity="0.48" stroke="#fff" stroke-opacity="0.9" stroke-width="1.0"/>
<circle cx="404.9" cy="618.3" r="12.8" fill="rgb(131,156,158)" fill-opacity="0.48" stroke="#fff" stroke-opacity="0.9" stroke-width="1.0"/>
<circle cx="400.5" cy="630.1" r="11.5" fill="rgb(131,156,158)" fill-opacity="0.48" stroke="#fff" stroke-opacity="0.9" stroke-width="1.0"/>
<circle cx="469.3" cy="432.6" r="12.1" fill="rgb(131,156,158)" fill-opacity="0.48" stroke="#fff" stroke-opacity="0.9" stroke-width="1.0"/>
<circle cx="490.4" cy="448.5" r="11.7" fill="rgb(131,156,158)" fill-opacity="0.48" stroke="#fff" stroke-opacity="0.9" stroke-width="1.0"/>
<circle cx="477.3" cy="497.8" r="13.3" fill="rgb(131,156,158)" fill-opacity="0.48" stroke="#fff" stroke-opacity="0.9" stroke-width="1.0"/>
<circle cx="483.5" cy="518.8" r="13.1" fill="rgb(131,156,158)" fill-opacity="0.48" stroke="#fff" stroke-opacity="0.9" stroke-width="1.0"/>
<circle cx="483.5" cy="538.5" r="13.1" fill="rgb(131,156,158)" fill-opacity="0.48" stroke="#fff" stroke-opacity="0.9" stroke-width="1.0"/>
<circle cx="518.3" cy="558.5" r="13.2" fill="rgb(131,156,158)" fill-opacity="0.48" stroke="#fff" stroke-opacity="0.9" stroke-width="1.0"/>
<circle cx="518.3" cy="565.0" r="13.2" fill="rgb(131,156,158)" fill-opacity="0.48" stroke="#fff" stroke-opacity="0.9" stroke-width="1.0"/>
<circle cx="518.3" cy="577.7" r="13.5" fill="rgb(131,156,158)" fill-opacity="0.48" stroke="#fff" stroke-opacity="0.9" stroke-width="1.0"/>
<circle cx="543.6" cy="451.0" r="10.4" fill="rgb(131,156,158)" fill-opacity="0.48" stroke="#fff" stroke-opacity="0.9" stroke-width="1.0"/>
<circle cx="539.4" cy="468.8" r="12.8" fill="rgb(131,156,158)" fill-opacity="0.48" stroke="#fff" stroke-opacity="0.9" stroke-width="1.0"/>
<circle cx="601.1" cy="392.2" r="12.9" fill="rgb(131,156,158)" fill-opacity="0.48" stroke="#fff" stroke-opacity="0.9" stroke-width="1.0"/>
<circle cx="601.1" cy="393.8" r="12.9" fill="rgb(131,156,158)" fill-opacity="0.48" stroke="#fff" stroke-opacity="0.9" stroke-width="1.0"/>
<circle cx="601.1" cy="410.0" r="14.1" fill="rgb(131,156,158)" fill-opacity="0.48" stroke="#fff" stroke-opacity="0.9" stroke-width="1.0"/>
<circle cx="601.8" cy="448.5" r="12.9" fill="rgb(131,156,158)" fill-opacity="0.48" stroke="#fff" stroke-opacity="0.9" stroke-width="1.0"/>
<circle cx="602.6" cy="457.3" r="13.9" fill="rgb(131,156,158)" fill-opacity="0.48" stroke="#fff" stroke-opacity="0.9" stroke-width="1.0"/>
</g>
<path d="M61.90,242.12 L65.81,242.79 L69.72,243.48 L73.63,244.19 L77.54,244.92 L81.45,245.67 L85.36,246.44 L89.27,247.22 L93.17,248.01 L97.08,248.80 L100.99,249.61 L104.90,250.41 L108.81,251.21 L112.72,252.01 L116.63,252.80 L120.54,253.59 L124.45,254.36 L128.36,255.12 L132.27,255.87 L136.18,256.59 L140.09,257.29 L144.00,257.97 L147.91,258.63 L151.82,259.25 L155.72,259.84 L159.63,260.40 L163.54,260.91 L167.45,261.39 L171.36,261.83 L175.27,262.23 L179.18,262.58 L183.09,262.89 L187.00,263.15 L190.91,263.37 L194.82,263.55 L198.73,263.67 L202.64,263.75 L206.55,263.78 L210.46,263.76 L214.36,263.69 L218.27,263.57 L222.18,263.40 L226.09,263.17 L230.00,262.90 L233.91,262.58 L237.82,262.21 L241.73,261.79 L245.64,261.33 L249.55,260.83 L253.46,260.29 L257.37,259.71 L261.28,259.09 L265.19,258.44 L269.10,257.75 L273.01,257.03 L276.91,256.27 L280.82,255.49 L284.73,254.69 L288.64,253.86 L292.55,253.01 L296.46,252.14 L300.37,251.25 L304.28,250.34 L308.19,249.41 L312.10,248.45 L316.01,247.47 L319.92,246.47 L323.83,245.44 L327.74,244.38 L331.65,243.30 L335.55,242.18 L339.46,241.04 L343.37,239.86 L347.28,238.65 L351.19,237.41 L355.10,236.14 L359.01,234.82 L362.92,233.47 L366.83,232.09 L370.74,230.66 L374.65,229.20 L378.56,227.70 L382.47,226.16 L386.38,224.59 L390.29,222.97 L394.19,221.31 L398.10,219.62 L402.01,217.88 L405.92,216.10 L409.83,214.28 L413.74,212.42 L417.65,210.52 L421.56,208.58 L425.47,206.59 L429.38,204.56 L433.29,202.49 L437.20,200.37 L441.11,198.21 L445.02,196.01 L448.93,193.76 L452.84,191.48 L456.74,189.15 L460.65,186.79 L464.56,184.40 L468.47,181.97 L472.38,179.51 L476.29,177.03 L480.20,174.52 L484.11,171.98 L488.02,169.42 L491.93,166.83 L495.84,164.23 L499.75,161.61 L503.66,158.97 L507.57,156.33 L511.48,153.66 L515.38,150.99 L519.29,148.31 L523.20,145.62 L527.11,142.93 L531.02,140.24 L534.93,137.54 L538.84,134.85 L542.75,132.16 L546.66,129.47 L550.57,126.79 L554.48,124.11 L558.39,121.45 L562.30,118.80 L566.21,116.16 L570.12,113.54 L574.03,110.94 L577.93,108.36 L581.84,105.79 L585.75,103.25 L589.66,100.74 L593.57,98.25 L597.48,95.79 L601.39,93.36 L605.30,90.97 L605.30,193.68 L601.39,194.60 L597.48,195.50 L593.57,196.41 L589.66,197.31 L585.75,198.21 L581.84,199.10 L577.93,199.99 L574.03,200.88 L570.12,201.77 L566.21,202.66 L562.30,203.55 L558.39,204.44 L554.48,205.33 L550.57,206.22 L546.66,207.11 L542.75,208.01 L538.84,208.90 L534.93,209.81 L531.02,210.71 L527.11,211.62 L523.20,212.53 L519.29,213.45 L515.38,214.38 L511.48,215.31 L507.57,216.25 L503.66,217.20 L499.75,218.15 L495.84,219.11 L491.93,220.09 L488.02,221.07 L484.11,222.06 L480.20,223.06 L476.29,224.07 L472.38,225.10 L468.47,226.13 L464.56,227.18 L460.65,228.25 L456.74,229.32 L452.84,230.41 L448.93,231.51 L445.02,232.63 L441.11,233.77 L437.20,234.92 L433.29,236.09 L429.38,237.26 L425.47,238.46 L421.56,239.66 L417.65,240.86 L413.74,242.08 L409.83,243.30 L405.92,244.52 L402.01,245.75 L398.10,246.97 L394.19,248.20 L390.29,249.42 L386.38,250.63 L382.47,251.84 L378.56,253.03 L374.65,254.22 L370.74,255.40 L366.83,256.56 L362.92,257.71 L359.01,258.84 L355.10,259.95 L351.19,261.04 L347.28,262.11 L343.37,263.15 L339.46,264.18 L335.55,265.18 L331.65,266.16 L327.74,267.11 L323.83,268.04 L319.92,268.93 L316.01,269.80 L312.10,270.64 L308.19,271.45 L304.28,272.23 L300.37,272.98 L296.46,273.69 L292.55,274.36 L288.64,275.01 L284.73,275.62 L280.82,276.20 L276.91,276.75 L273.01,277.27 L269.10,277.78 L265.19,278.26 L261.28,278.72 L257.37,279.16 L253.46,279.59 L249.55,280.01 L245.64,280.42 L241.73,280.83 L237.82,281.23 L233.91,281.63 L230.00,282.03 L226.09,282.44 L222.18,282.86 L218.27,283.29 L214.36,283.73 L210.46,284.19 L206.55,284.66 L202.64,285.15 L198.73,285.65 L194.82,286.17 L190.91,286.70 L187.00,287.25 L183.09,287.82 L179.18,288.41 L175.27,289.02 L171.36,289.65 L167.45,290.30 L163.54,290.97 L159.63,291.66 L155.72,292.37 L151.82,293.10 L147.91,293.85 L144.00,294.61 L140.09,295.38 L136.18,296.18 L132.27,296.98 L128.36,297.79 L124.45,298.62 L120.54,299.45 L116.63,300.29 L112.72,301.14 L108.81,301.99 L104.90,302.85 L100.99,303.70 L97.08,304.56 L93.17,305.42 L89.27,306.28 L85.36,307.14 L81.45,307.99 L77.54,308.84 L73.63,309.68 L69.72,310.52 L65.81,311.34 L61.90,312.16 Z" fill="rgb(240,20,72)" fill-opacity="0.21"/>
<path d="M61.90,563.95 L65.81,564.40 L69.72,564.84 L73.63,565.28 L77.54,565.72 L81.45,566.14 L85.36,566.57 L89.27,566.98 L93.17,567.39 L97.08,567.79 L100.99,568.17 L104.90,568.55 L108.81,568.92 L112.72,569.27 L116.63,569.61 L120.54,569.94 L124.45,570.25 L128.36,570.55 L132.27,570.83 L136.18,571.10 L140.09,571.35 L144.00,571.58 L147.91,571.79 L151.82,571.98 L155.72,572.15 L159.63,572.30 L163.54,572.42 L167.45,572.53 L171.36,572.61 L175.27,572.67 L179.18,572.70 L183.09,572.70 L187.00,572.68 L190.91,572.63 L194.82,572.55 L198.73,572.45 L202.64,572.31 L206.55,572.14 L210.46,571.95 L214.36,571.72 L218.27,571.45 L222.18,571.16 L226.09,570.82 L230.00,570.46 L233.91,570.05 L237.82,569.62 L241.73,569.14 L245.64,568.63 L249.55,568.09 L253.46,567.51 L257.37,566.90 L261.28,566.25 L265.19,565.57 L269.10,564.86 L273.01,564.11 L276.91,563.33 L280.82,562.51 L284.73,561.66 L288.64,560.78 L292.55,559.86 L296.46,558.91 L300.37,557.93 L304.28,556.92 L308.19,555.87 L312.10,554.79 L316.01,553.68 L319.92,552.53 L323.83,551.36 L327.74,550.15 L331.65,548.91 L335.55,547.64 L339.46,546.34 L343.37,545.00 L347.28,543.64 L351.19,542.24 L355.10,540.82 L359.01,539.36 L362.92,537.88 L366.83,536.36 L370.74,534.81 L374.65,533.23 L378.56,531.62 L382.47,529.98 L386.38,528.30 L390.29,526.60 L394.19,524.86 L398.10,523.09 L402.01,521.29 L405.92,519.45 L409.83,517.58 L413.74,515.68 L417.65,513.75 L421.56,511.78 L425.47,509.77 L429.38,507.74 L433.29,505.66 L437.20,503.56 L441.11,501.42 L445.02,499.24 L448.93,497.03 L452.84,494.79 L456.74,492.52 L460.65,490.22 L464.56,487.89 L468.47,485.53 L472.38,483.15 L476.29,480.75 L480.20,478.32 L484.11,475.87 L488.02,473.40 L491.93,470.92 L495.84,468.42 L499.75,465.90 L503.66,463.37 L507.57,460.82 L511.48,458.27 L515.38,455.70 L519.29,453.13 L523.20,450.54 L527.11,447.96 L531.02,445.36 L534.93,442.77 L538.84,440.17 L542.75,437.58 L546.66,434.98 L550.57,432.39 L554.48,429.80 L558.39,427.21 L562.30,424.63 L566.21,422.06 L570.12,419.50 L574.03,416.95 L577.93,414.41 L581.84,411.89 L585.75,409.38 L589.66,406.88 L593.57,404.40 L597.48,401.95 L601.39,399.51 L605.30,397.09 L605.30,478.78 L601.39,479.83 L597.48,480.88 L593.57,481.95 L589.66,483.02 L585.75,484.11 L581.84,485.20 L577.93,486.31 L574.03,487.43 L570.12,488.56 L566.21,489.69 L562.30,490.84 L558.39,492.00 L554.48,493.17 L550.57,494.35 L546.66,495.53 L542.75,496.73 L538.84,497.94 L534.93,499.16 L531.02,500.39 L527.11,501.62 L523.20,502.87 L519.29,504.12 L515.38,505.39 L511.48,506.66 L507.57,507.95 L503.66,509.24 L499.75,510.54 L495.84,511.85 L491.93,513.17 L488.02,514.50 L484.11,515.83 L480.20,517.18 L476.29,518.53 L472.38,519.90 L468.47,521.27 L464.56,522.64 L460.65,524.03 L456.74,525.43 L452.84,526.83 L448.93,528.24 L445.02,529.66 L441.11,531.09 L437.20,532.52 L433.29,533.97 L429.38,535.41 L425.47,536.86 L421.56,538.31 L417.65,539.77 L413.74,541.21 L409.83,542.66 L405.92,544.10 L402.01,545.54 L398.10,546.96 L394.19,548.38 L390.29,549.78 L386.38,551.17 L382.47,552.54 L378.56,553.90 L374.65,555.24 L370.74,556.56 L366.83,557.85 L362.92,559.13 L359.01,560.38 L355.10,561.60 L351.19,562.79 L347.28,563.96 L343.37,565.10 L339.46,566.22 L335.55,567.31 L331.65,568.37 L327.74,569.41 L323.83,570.43 L319.92,571.42 L316.01,572.38 L312.10,573.32 L308.19,574.23 L304.28,575.12 L300.37,575.99 L296.46,576.83 L292.55,577.65 L288.64,578.44 L284.73,579.21 L280.82,579.95 L276.91,580.67 L273.01,581.37 L269.10,582.05 L265.19,582.70 L261.28,583.32 L257.37,583.93 L253.46,584.51 L249.55,585.07 L245.64,585.61 L241.73,586.13 L237.82,586.62 L233.91,587.09 L230.00,587.54 L226.09,587.97 L222.18,588.38 L218.27,588.77 L214.36,589.15 L210.46,589.51 L206.55,589.86 L202.64,590.20 L198.73,590.53 L194.82,590.85 L190.91,591.16 L187.00,591.47 L183.09,591.78 L179.18,592.08 L175.27,592.38 L171.36,592.69 L167.45,593.00 L163.54,593.32 L159.63,593.64 L155.72,593.97 L151.82,594.30 L147.91,594.65 L144.00,595.02 L140.09,595.40 L136.18,595.79 L132.27,596.20 L128.36,596.63 L124.45,597.08 L120.54,597.56 L116.63,598.06 L112.72,598.58 L108.81,599.13 L104.90,599.72 L100.99,600.33 L97.08,600.97 L93.17,601.65 L89.27,602.36 L85.36,603.11 L81.45,603.90 L77.54,604.73 L73.63,605.60 L69.72,606.52 L65.81,607.48 L61.90,608.48 Z" fill="rgb(75,30,245)" fill-opacity="0.21"/>
<path d="M61.90,313.70 L605.30,178.70" stroke="#bdbdbd" stroke-width="3" stroke-dasharray="12.6 12.8" fill="none"/>
<path d="M61.90,615.50 L604.80,474.60" stroke="#bdbdbd" stroke-width="3" stroke-dasharray="12.6 12.8" fill="none"/>
<path d="M61.90,277.14 L65.81,277.06 L69.72,277.00 L73.63,276.94 L77.54,276.88 L81.45,276.83 L85.36,276.79 L89.27,276.75 L93.17,276.72 L97.08,276.68 L100.99,276.65 L104.90,276.63 L108.81,276.60 L112.72,276.57 L116.63,276.55 L120.54,276.52 L124.45,276.49 L128.36,276.46 L132.27,276.42 L136.18,276.38 L140.09,276.34 L144.00,276.29 L147.91,276.24 L151.82,276.17 L155.72,276.10 L159.63,276.03 L163.54,275.94 L167.45,275.85 L171.36,275.74 L175.27,275.62 L179.18,275.50 L183.09,275.36 L187.00,275.20 L190.91,275.04 L194.82,274.86 L198.73,274.66 L202.64,274.45 L206.55,274.22 L210.46,273.97 L214.36,273.71 L218.27,273.43 L222.18,273.13 L226.09,272.81 L230.00,272.47 L233.91,272.10 L237.82,271.72 L241.73,271.31 L245.64,270.88 L249.55,270.42 L253.46,269.94 L257.37,269.44 L261.28,268.91 L265.19,268.35 L269.10,267.76 L273.01,267.15 L276.91,266.51 L280.82,265.85 L284.73,265.15 L288.64,264.43 L292.55,263.69 L296.46,262.91 L300.37,262.11 L304.28,261.29 L308.19,260.43 L312.10,259.55 L316.01,258.64 L319.92,257.70 L323.83,256.74 L327.74,255.75 L331.65,254.73 L335.55,253.68 L339.46,252.61 L343.37,251.51 L347.28,250.38 L351.19,249.22 L355.10,248.04 L359.01,246.83 L362.92,245.59 L366.83,244.32 L370.74,243.03 L374.65,241.71 L378.56,240.37 L382.47,239.00 L386.38,237.61 L390.29,236.19 L394.19,234.76 L398.10,233.30 L402.01,231.81 L405.92,230.31 L409.83,228.79 L413.74,227.25 L417.65,225.69 L421.56,224.12 L425.47,222.52 L429.38,220.91 L433.29,219.29 L437.20,217.65 L441.11,215.99 L445.02,214.32 L448.93,212.64 L452.84,210.94 L456.74,209.24 L460.65,207.52 L464.56,205.79 L468.47,204.05 L472.38,202.31 L476.29,200.55 L480.20,198.79 L484.11,197.02 L488.02,195.24 L491.93,193.46 L495.84,191.67 L499.75,189.88 L503.66,188.09 L507.57,186.29 L511.48,184.49 L515.38,182.69 L519.29,180.88 L523.20,179.08 L527.11,177.28 L531.02,175.47 L534.93,173.67 L538.84,171.88 L542.75,170.08 L546.66,168.29 L550.57,166.50 L554.48,164.72 L558.39,162.95 L562.30,161.18 L566.21,159.41 L570.12,157.66 L574.03,155.91 L577.93,154.17 L581.84,152.45 L585.75,150.73 L589.66,149.02 L593.57,147.33 L597.48,145.65 L601.39,143.98 L605.30,142.33" stroke="rgb(245,0,60)" stroke-width="3.2" fill="none"/>
<path d="M61.90,586.21 L65.81,585.94 L69.72,585.68 L73.63,585.44 L77.54,585.22 L81.45,585.02 L85.36,584.84 L89.27,584.67 L93.17,584.52 L97.08,584.38 L100.99,584.25 L104.90,584.13 L108.81,584.03 L112.72,583.93 L116.63,583.84 L120.54,583.75 L124.45,583.67 L128.36,583.59 L132.27,583.52 L136.18,583.44 L140.09,583.37 L144.00,583.30 L147.91,583.22 L151.82,583.14 L155.72,583.06 L159.63,582.97 L163.54,582.87 L167.45,582.76 L171.36,582.65 L175.27,582.53 L179.18,582.39 L183.09,582.24 L187.00,582.07 L190.91,581.90 L194.82,581.70 L198.73,581.49 L202.64,581.25 L206.55,581.00 L210.46,580.73 L214.36,580.43 L218.27,580.11 L222.18,579.77 L226.09,579.40 L230.00,579.00 L233.91,578.57 L237.82,578.12 L241.73,577.63 L245.64,577.12 L249.55,576.58 L253.46,576.01 L257.37,575.42 L261.28,574.79 L265.19,574.13 L269.10,573.45 L273.01,572.74 L276.91,572.00 L280.82,571.23 L284.73,570.43 L288.64,569.61 L292.55,568.75 L296.46,567.87 L300.37,566.96 L304.28,566.02 L308.19,565.05 L312.10,564.05 L316.01,563.03 L319.92,561.97 L323.83,560.89 L327.74,559.78 L331.65,558.64 L335.55,557.47 L339.46,556.28 L343.37,555.05 L347.28,553.80 L351.19,552.52 L355.10,551.21 L359.01,549.87 L362.92,548.50 L366.83,547.11 L370.74,545.68 L374.65,544.23 L378.56,542.76 L382.47,541.26 L386.38,539.74 L390.29,538.19 L394.19,536.62 L398.10,535.03 L402.01,533.41 L405.92,531.78 L409.83,530.12 L413.74,528.45 L417.65,526.76 L421.56,525.05 L425.47,523.32 L429.38,521.57 L433.29,519.82 L437.20,518.04 L441.11,516.25 L445.02,514.45 L448.93,512.64 L452.84,510.81 L456.74,508.97 L460.65,507.12 L464.56,505.27 L468.47,503.40 L472.38,501.52 L476.29,499.64 L480.20,497.75 L484.11,495.85 L488.02,493.95 L491.93,492.04 L495.84,490.13 L499.75,488.22 L503.66,486.30 L507.57,484.38 L511.48,482.46 L515.38,480.54 L519.29,478.63 L523.20,476.71 L527.11,474.79 L531.02,472.88 L534.93,470.96 L538.84,469.06 L542.75,467.15 L546.66,465.26 L550.57,463.37 L554.48,461.48 L558.39,459.61 L562.30,457.74 L566.21,455.88 L570.12,454.03 L574.03,452.19 L577.93,450.36 L581.84,448.54 L585.75,446.74 L589.66,444.95 L593.57,443.18 L597.48,441.41 L601.39,439.67 L605.30,437.94" stroke="rgb(65,0,250)" stroke-width="3.2" fill="none"/>
<path d="M631.00,42.00 L631.00,42.00 L631.03,43.75 L631.06,46.01 L631.09,48.77 L631.14,52.03 L631.21,55.77 L631.30,60.00 L631.41,64.95 L631.53,70.67 L631.67,76.88 L631.83,83.29 L632.01,89.62 L632.20,95.60 L632.40,101.23 L632.61,106.74 L632.84,112.17 L633.10,117.57 L633.38,122.97 L633.70,128.40 L634.07,134.09 L634.50,140.04 L634.95,145.99 L635.41,151.67 L635.87,156.83 L636.30,161.20 L636.66,164.55 L636.96,167.04 L637.24,169.01 L637.58,170.77 L638.01,172.66 L638.60,175.00 L639.39,177.87 L640.35,181.01 L641.41,184.28 L642.50,187.52 L643.55,190.58 L644.50,193.30 L645.35,195.63 L646.14,197.69 L646.91,199.57 L647.64,201.35 L648.37,203.13 L649.10,205.00 L649.84,206.94 L650.58,208.87 L651.31,210.80 L652.02,212.73 L652.69,214.66 L653.30,216.60 L653.83,218.54 L654.27,220.49 L654.67,222.44 L655.08,224.40 L655.54,226.35 L656.10,228.30 L656.73,230.25 L657.40,232.20 L658.11,234.16 L658.90,236.11 L659.79,238.06 L660.80,240.00 L661.97,241.94 L663.28,243.87 L664.69,245.81 L666.15,247.74 L667.60,249.67 L669.00,251.60 L670.37,253.53 L671.77,255.46 L673.17,257.39 L674.53,259.33 L675.81,261.26 L677.00,263.20 L678.12,265.20 L679.22,267.27 L680.25,269.34 L681.17,271.34 L681.93,273.22 L682.50,274.90 L682.89,276.31 L683.15,277.50 L683.25,278.55 L683.19,279.57 L682.94,280.65 L682.50,281.90 L681.85,283.32 L681.01,284.83 L679.98,286.41 L678.79,288.01 L677.46,289.62 L676.00,291.20 L674.32,292.75 L672.40,294.30 L670.33,295.84 L668.21,297.39 L666.17,298.94 L664.30,300.50 L662.60,302.08 L660.98,303.69 L659.43,305.31 L657.93,306.90 L656.46,308.44 L655.00,309.90 L653.47,311.36 L651.88,312.85 L650.32,314.29 L648.89,315.60 L647.68,316.69 L646.80,317.50 L631.00,317.50 Z" fill="rgb(253,158,181)"/>
<path d="M631.00,377.70 L631.00,377.70 L631.17,379.11 L631.40,381.12 L631.68,383.47 L631.97,385.91 L632.26,388.17 L632.50,390.00 L632.73,391.27 L632.98,392.17 L633.21,392.89 L633.41,393.64 L633.55,394.61 L633.60,396.00 L633.53,397.94 L633.37,400.30 L633.14,402.88 L632.89,405.48 L632.66,407.92 L632.50,410.00 L632.37,411.52 L632.24,412.59 L632.14,413.50 L632.08,414.52 L632.09,415.93 L632.20,418.00 L632.44,420.98 L632.80,424.70 L633.23,428.81 L633.68,432.96 L634.12,436.81 L634.50,440.00 L634.85,442.49 L635.20,444.56 L635.54,446.31 L635.83,447.89 L636.06,449.41 L636.20,451.00 L636.24,452.60 L636.19,454.11 L636.08,455.56 L635.91,457.00 L635.71,458.47 L635.50,460.00 L635.21,461.50 L634.80,462.93 L634.37,464.38 L633.97,465.96 L633.69,467.80 L633.60,470.00 L633.76,472.74 L634.13,475.96 L634.62,479.44 L635.12,482.93 L635.55,486.19 L635.80,489.00 L635.85,491.29 L635.76,493.23 L635.59,494.96 L635.41,496.58 L635.26,498.22 L635.20,500.00 L635.19,501.91 L635.17,503.85 L635.19,505.81 L635.29,507.78 L635.51,509.75 L635.90,511.70 L636.45,513.64 L637.12,515.57 L637.91,517.50 L638.83,519.43 L639.86,521.36 L641.00,523.30 L642.25,525.25 L643.61,527.20 L645.09,529.15 L646.70,531.10 L648.43,533.05 L650.30,535.00 L652.38,536.94 L654.66,538.87 L657.08,540.80 L659.55,542.73 L661.98,544.66 L664.30,546.60 L666.59,548.57 L668.93,550.58 L671.24,552.59 L673.43,554.57 L675.41,556.49 L677.10,558.30 L678.51,559.96 L679.70,561.49 L680.69,562.95 L681.48,564.41 L682.08,565.94 L682.50,567.60 L682.70,569.44 L682.67,571.41 L682.46,573.45 L682.09,575.49 L681.63,577.46 L681.10,579.30 L680.54,580.99 L679.92,582.58 L679.19,584.10 L678.33,585.59 L677.27,587.08 L676.00,588.60 L674.46,590.15 L672.67,591.70 L670.71,593.25 L668.61,594.80 L666.46,596.35 L664.30,597.90 L662.03,599.45 L659.59,601.00 L657.08,602.54 L654.62,604.09 L652.32,605.64 L650.30,607.20 L648.57,608.74 L647.05,610.24 L645.69,611.76 L644.44,613.30 L643.26,614.90 L642.10,616.60 L640.97,618.40 L639.90,620.30 L638.91,622.26 L637.97,624.24 L637.11,626.24 L636.30,628.20 L635.56,630.17 L634.90,632.18 L634.30,634.19 L633.76,636.17 L633.26,638.09 L632.80,639.90 L632.38,641.70 L632.01,643.52 L631.68,645.28 L631.40,646.88 L631.18,648.22 L631.00,649.20 L631.00,649.20 Z" fill="rgb(182,157,252)"/>
<text x="0.3" y="11.7" font-family="Liberation Sans, sans-serif" font-size="16.08" fill="#000" stroke="#000" stroke-width="0.25">Association between ambient heat index and core temperature and cardiac responses</text>
<text x="0" y="31.7" font-family="Liberation Sans, sans-serif" font-size="13.6" fill="#000" stroke="#000" stroke-width="0.2">Core temperature</text>
<text x="0" y="366.9" font-family="Liberation Sans, sans-serif" font-size="13.6" fill="#000" stroke="#000" stroke-width="0.2">Heart rate</text>
<text x="612.6" y="682.7" font-family="Liberation Sans, sans-serif" font-size="13.6" fill="#000" stroke="#000" stroke-width="0.2" text-anchor="end">Ambient heat index (°C)</text>
<text transform="translate(9.8,180.5) rotate(-90)" font-family="Liberation Sans, sans-serif" font-size="13.6" fill="#000" stroke="#000" stroke-width="0.2" text-anchor="middle">Change in core temperature (°C)</text>
<text transform="translate(9.8,515.5) rotate(-90)" font-family="Liberation Sans, sans-serif" font-size="13.6" fill="#000" stroke="#000" stroke-width="0.2" text-anchor="middle">Change in heart rate (beats/min)</text>
<text x="35.3" y="314.20" font-family="Liberation Sans, sans-serif" font-size="11" fill="#4d4d4d" stroke="#4d4d4d" stroke-width="0.15" text-anchor="end">0.0</text>
<text x="35.3" y="290.60" font-family="Liberation Sans, sans-serif" font-size="11" fill="#4d4d4d" stroke="#4d4d4d" stroke-width="0.15" text-anchor="end">0.2</text>
<text x="35.3" y="267.00" font-family="Liberation Sans, sans-serif" font-size="11" fill="#4d4d4d" stroke="#4d4d4d" stroke-width="0.15" text-anchor="end">0.4</text>
<text x="35.3" y="243.40" font-family="Liberation Sans, sans-serif" font-size="11" fill="#4d4d4d" stroke="#4d4d4d" stroke-width="0.15" text-anchor="end">0.6</text>
<text x="35.3" y="219.80" font-family="Liberation Sans, sans-serif" font-size="11" fill="#4d4d4d" stroke="#4d4d4d" stroke-width="0.15" text-anchor="end">0.8</text>
<text x="35.3" y="196.20" font-family="Liberation Sans, sans-serif" font-size="11" fill="#4d4d4d" stroke="#4d4d4d" stroke-width="0.15" text-anchor="end">1.0</text>
<text x="35.3" y="172.60" font-family="Liberation Sans, sans-serif" font-size="11" fill="#4d4d4d" stroke="#4d4d4d" stroke-width="0.15" text-anchor="end">1.2</text>
<text x="35.3" y="149.00" font-family="Liberation Sans, sans-serif" font-size="11" fill="#4d4d4d" stroke="#4d4d4d" stroke-width="0.15" text-anchor="end">1.4</text>
<text x="35.3" y="125.40" font-family="Liberation Sans, sans-serif" font-size="11" fill="#4d4d4d" stroke="#4d4d4d" stroke-width="0.15" text-anchor="end">1.6</text>
<text x="35.3" y="101.80" font-family="Liberation Sans, sans-serif" font-size="11" fill="#4d4d4d" stroke="#4d4d4d" stroke-width="0.15" text-anchor="end">1.8</text>
<text x="35.3" y="78.20" font-family="Liberation Sans, sans-serif" font-size="11" fill="#4d4d4d" stroke="#4d4d4d" stroke-width="0.15" text-anchor="end">2.0</text>
<text x="35.3" y="54.60" font-family="Liberation Sans, sans-serif" font-size="11" fill="#4d4d4d" stroke="#4d4d4d" stroke-width="0.15" text-anchor="end">2.2</text>
<text x="35.3" y="643.20" font-family="Liberation Sans, sans-serif" font-size="11" fill="#4d4d4d" stroke="#4d4d4d" stroke-width="0.15" text-anchor="end">−10</text>
<text x="35.3" y="607.90" font-family="Liberation Sans, sans-serif" font-size="11" fill="#4d4d4d" stroke="#4d4d4d" stroke-width="0.15" text-anchor="end">0</text>
<text x="35.3" y="572.60" font-family="Liberation Sans, sans-serif" font-size="11" fill="#4d4d4d" stroke="#4d4d4d" stroke-width="0.15" text-anchor="end">10</text>
<text x="35.3" y="537.30" font-family="Liberation Sans, sans-serif" font-size="11" fill="#4d4d4d" stroke="#4d4d4d" stroke-width="0.15" text-anchor="end">20</text>
<text x="35.3" y="502.00" font-family="Liberation Sans, sans-serif" font-size="11" fill="#4d4d4d" stroke="#4d4d4d" stroke-width="0.15" text-anchor="end">30</text>
<text x="35.3" y="466.70" font-family="Liberation Sans, sans-serif" font-size="11" fill="#4d4d4d" stroke="#4d4d4d" stroke-width="0.15" text-anchor="end">40</text>
<text x="35.3" y="431.40" font-family="Liberation Sans, sans-serif" font-size="11" fill="#4d4d4d" stroke="#4d4d4d" stroke-width="0.15" text-anchor="end">50</text>
<text x="35.3" y="396.10" font-family="Liberation Sans, sans-serif" font-size="11" fill="#4d4d4d" stroke="#4d4d4d" stroke-width="0.15" text-anchor="end">60</text>
<text x="61.90" y="667.5" font-family="Liberation Sans, sans-serif" font-size="11" fill="#4d4d4d" stroke="#4d4d4d" stroke-width="0.15" text-anchor="middle">25</text>
<text x="111.30" y="667.5" font-family="Liberation Sans, sans-serif" font-size="11" fill="#4d4d4d" stroke="#4d4d4d" stroke-width="0.15" text-anchor="middle">30</text>
<text x="160.70" y="667.5" font-family="Liberation Sans, sans-serif" font-size="11" fill="#4d4d4d" stroke="#4d4d4d" stroke-width="0.15" text-anchor="middle">35</text>
<text x="210.10" y="667.5" font-family="Liberation Sans, sans-serif" font-size="11" fill="#4d4d4d" stroke="#4d4d4d" stroke-width="0.15" text-anchor="middle">40</text>
<text x="259.50" y="667.5" font-family="Liberation Sans, sans-serif" font-size="11" fill="#4d4d4d" stroke="#4d4d4d" stroke-width="0.15" text-anchor="middle">45</text>
<text x="308.90" y="667.5" font-family="Liberation Sans, sans-serif" font-size="11" fill="#4d4d4d" stroke="#4d4d4d" stroke-width="0.15" text-anchor="middle">50</text>
<text x="358.30" y="667.5" font-family="Liberation Sans, sans-serif" font-size="11" fill="#4d4d4d" stroke="#4d4d4d" stroke-width="0.15" text-anchor="middle">55</text>
<text x="407.70" y="667.5" font-family="Liberation Sans, sans-serif" font-size="11" fill="#4d4d4d" stroke="#4d4d4d" stroke-width="0.15" text-anchor="middle">60</text>
<text x="457.10" y="667.5" font-family="Liberation Sans, sans-serif" font-size="11" fill="#4d4d4d" stroke="#4d4d4d" stroke-width="0.15" text-anchor="middle">65</text>
<text x="506.50" y="667.5" font-family="Liberation Sans, sans-serif" font-size="11" fill="#4d4d4d" stroke="#4d4d4d" stroke-width="0.15" text-anchor="middle">70</text>
<text x="555.90" y="667.5" font-family="Liberation Sans, sans-serif" font-size="11" fill="#4d4d4d" stroke="#4d4d4d" stroke-width="0.15" text-anchor="middle">75</text>
<text x="605.30" y="667.5" font-family="Liberation Sans, sans-serif" font-size="11" fill="#4d4d4d" stroke="#4d4d4d" stroke-width="0.15" text-anchor="middle">80</text>
</svg></body></html>
